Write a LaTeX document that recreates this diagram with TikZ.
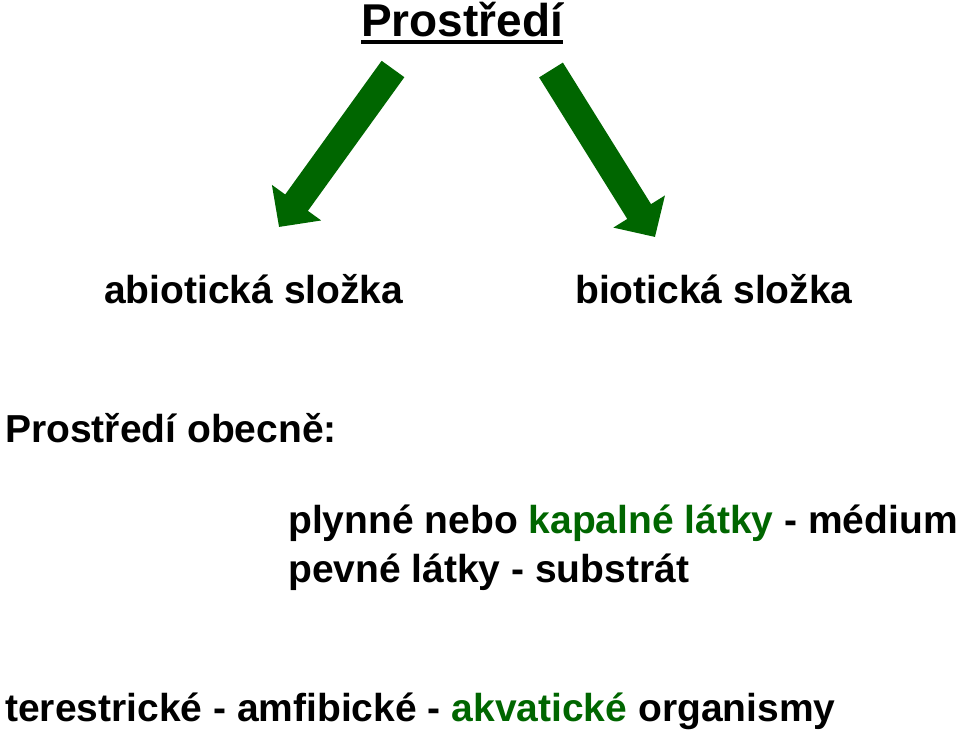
\documentclass[tikz,border=0pt]{standalone}
\usepackage{fontspec}
\setmainfont{Liberation Sans}
\usepackage{xcolor}
\usetikzlibrary{arrows.meta}
\definecolor{darkgreen}{RGB}{0,102,0}
\tikzset{
	txt/.style={anchor=base west,inner sep=0pt,font=\bfseries\fontsize{39bp}{48bp}\selectfont},
	bigarrow/.style={draw=darkgreen,line width=28bp,-{Triangle[length=30bp,width=59bp]}}
}

\begin{document}
\begin{tikzpicture}[x=1bp,y=-1bp]
\useasboundingbox (0,0) rectangle (960,733);
%nadpis
\node[anchor=base west,inner sep=0pt,font=\bfseries\fontsize{46bp}{56bp}\selectfont] (title) at (361,37) {Prostředí};
\draw[line width=4bp] ([yshift=-5bp]title.base west) -- ([yshift=-5bp]title.base east);
%sipky
\coordinate (la) at (393,69);
\coordinate (lb) at (279,227);
\coordinate (ra) at (551,70);
\coordinate (rb) at (655,237);
\draw[bigarrow] (la) -- (lb);
\draw[bigarrow] (ra) -- (rb);
%slozky
\node[txt] (abio) at (104,303) {abiotická složka};
\node[txt] (bio) at (575,303) {biotická složka};
%prostredi obecne
\node[txt] (obec) at (5,442) {Prostředí obecně:};
\node[txt] (medium) at (288,533) {plynné nebo \textcolor{darkgreen}{kapalné látky} - médium};
\node[txt] (substrat) at (288,582) {pevné látky - substrát};
%organismy
\node[txt] (org) at (5,721) {terestrické - amfibické - \textcolor{darkgreen}{akvatické} organismy};
\end{tikzpicture}
\end{document}
